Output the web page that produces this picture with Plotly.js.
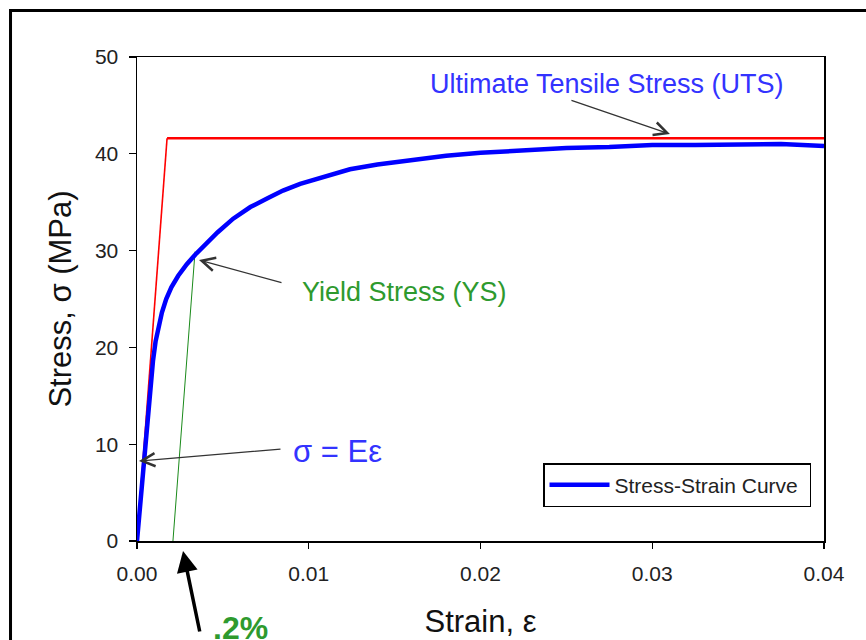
<!DOCTYPE html>
<html>
<head>
<meta charset="utf-8">
<script src="https://cdn.plot.ly/plotly-3.0.1.min.js"></script>
<style>
html,body{margin:0;padding:0;background:#fff;overflow:hidden;}
#chart{width:866px;height:640px;}
</style>
</head>
<body>
<div id="chart"></div>
<script>
// Stress-strain curve
const strain = [0, 0.0001, 0.000215, 0.00035, 0.00047, 0.00066, 0.0008, 0.00093, 0.00108, 0.00125, 0.00145, 0.0017, 0.002, 0.0024, 0.0029, 0.0034, 0.004, 0.0047, 0.0056, 0.0066, 0.0076, 0.0085, 0.0095, 0.0108, 0.0124, 0.014, 0.016, 0.018, 0.02, 0.0225, 0.025, 0.0275, 0.03, 0.0325, 0.035, 0.0375, 0.04];
const stress = [0, 2.0, 4.2, 7.5, 10.1, 13.5, 16.2, 18.6, 20.6, 22.2, 23.6, 25.0, 26.2, 27.4, 28.6, 29.6, 30.7, 31.9, 33.3, 34.5, 35.4, 36.2, 36.9, 37.6, 38.4, 38.9, 39.4, 39.8, 40.1, 40.4, 40.6, 40.7, 40.9, 40.9, 41.0, 41.0, 40.8];

// Elastic line (sigma = E eps) up to UTS level
const elasticStrain = [0, 0.00175];
const elasticStress = [0, 41.6];
// UTS level
const utsStrain = [0.00175, 0.04];
const utsStress = [41.6, 41.6];
// 0.2% offset line
const offsetStrain = [0.00208, 0.00338];
const offsetStress = [-0.3, 29.9];

const xTicks = [0, 0.01, 0.02, 0.03, 0.04];
const xTickText = ['0.00', '0.01', '0.02', '0.03', '0.04'];
const yTicks = [0, 10, 20, 30, 40, 50];

const FONT = 'Liberation Sans, Arial, sans-serif';

const traces = [
  {x: elasticStrain, y: elasticStress, mode: 'lines', line: {color: '#ff0000', width: 1.6}, showlegend: false, hoverinfo: 'skip'},
  {x: utsStrain, y: utsStress, mode: 'lines', line: {color: '#ff0000', width: 2.6}, showlegend: false, hoverinfo: 'skip'},
  {x: offsetStrain, y: offsetStress, mode: 'lines', line: {color: '#1a8a1a', width: 1}, showlegend: false, hoverinfo: 'skip', cliponaxis: false},
  {x: strain, y: stress, mode: 'lines', name: 'Stress-Strain Curve\u00a0', line: {color: '#0000ff', width: 4.5}, showlegend: true}
];

const arrowColor = '#333333';
// pixel -> paper helper for marks placed below the axis
const pyPaper = py => (541 - py) / 484;

const layout = {
  width: 866, height: 640,
  margin: {l: 137, r: 42, t: 57, b: 99},
  paper_bgcolor: '#ffffff', plot_bgcolor: '#ffffff',
  font: {family: FONT, color: '#222222'},
  xaxis: {
    range: [0, 0.04], tickvals: xTicks, ticktext: xTickText,
    showgrid: false, zeroline: false,
    showline: true, linecolor: '#000', linewidth: 1.5, mirror: true,
    ticks: 'outside', ticklen: 6, tickcolor: '#000', tickwidth: 1.2,
    tickfont: {family: FONT, size: 21, color: '#222'},
    ticklabelstandoff: 7,
    title: {text: 'Strain, ε', font: {family: FONT, size: 31, color: '#111'}, standoff: 26}
  },
  yaxis: {
    range: [0, 50], tickvals: yTicks,
    showgrid: false, zeroline: false,
    showline: true, linecolor: '#000', linewidth: 1.5, mirror: true,
    ticks: 'outside', ticklen: 7, tickcolor: '#000', tickwidth: 1.2,
    tickfont: {family: FONT, size: 21, color: '#222'},
    ticklabelstandoff: 6,
    title: {text: 'Stress, σ (MPa)', font: {family: FONT, size: 31, color: '#111'}, standoff: 14}
  },
  legend: {
    x: 0.591, y: 0.161, xanchor: 'left', yanchor: 'top',
    bgcolor: '#fff', bordercolor: '#000', borderwidth: 1.5,
    font: {family: FONT, size: 21, color: '#222'},
    itemwidth: 60
  },
  shapes: [
    {type: 'rect', xref: 'paper', yref: 'paper', x0: -0.1841, x1: 1.3, y0: -0.6, y1: 1.0961,
     line: {color: '#000', width: 3}, fillcolor: 'rgba(0,0,0,0)', layer: 'above'}
  ],
  annotations: [
    {xref: 'x', yref: 'y', x: 0.02737, y: 47.2, text: 'Ultimate Tensile Stress (UTS)', showarrow: false,
     font: {family: FONT, size: 27, color: '#3333ff'}, xanchor: 'center', yanchor: 'middle'},
    {xref: 'x', yref: 'y', x: 0.03103, y: 42.05, text: '', showarrow: true, ax: -100, ay: -34,
     arrowhead: 5, arrowsize: 2, arrowwidth: 1.3, arrowcolor: arrowColor},
    {xref: 'x', yref: 'y', x: 0.0156, y: 25.7, text: 'Yield Stress (YS)', showarrow: false,
     font: {family: FONT, size: 27, color: '#2e9a2e'}, xanchor: 'center', yanchor: 'middle'},
    {xref: 'x', yref: 'y', x: 0.00361, y: 29.03, text: '', showarrow: true, ax: 84, ay: 23,
     arrowhead: 5, arrowsize: 2, arrowwidth: 1.3, arrowcolor: arrowColor},
    {xref: 'x', yref: 'y', x: 0.0117, y: 9.2, text: 'σ = Eε', showarrow: false,
     font: {family: FONT, size: 31, color: '#3333ff'}, xanchor: 'center', yanchor: 'middle'},
    {xref: 'x', yref: 'y', x: 0.000116, y: 8.26, text: '', showarrow: true, ax: 143, ay: -12,
     arrowhead: 5, arrowsize: 2, arrowwidth: 1.3, arrowcolor: arrowColor},
    {xref: 'x', yref: 'paper', x: 0.006, y: pyPaper(628), text: '<b>.2%</b>', showarrow: false,
     font: {family: FONT, size: 32, color: '#2e9a2e'}, xanchor: 'center', yanchor: 'middle'},
    {xref: 'x', yref: 'paper', x: 0.00268, y: pyPaper(551), text: '', showarrow: true, ax: 17, ay: 82,
     arrowhead: 2, arrowsize: 1.2, arrowwidth: 3.5, arrowcolor: '#000'}
  ]
};

Plotly.newPlot('chart', traces, layout, {displayModeBar: false, staticPlot: true});
</script>
</body>
</html>
